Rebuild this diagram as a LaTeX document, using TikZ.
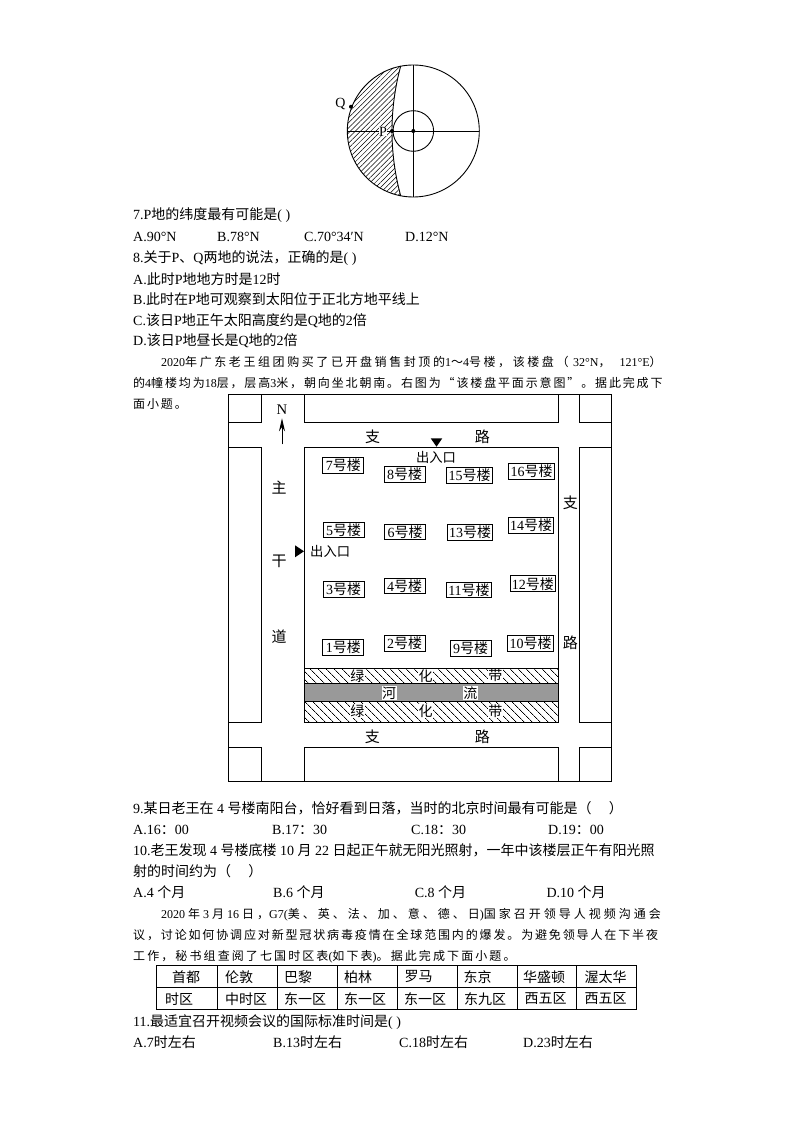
\documentclass[tikz,border=0pt]{standalone}
\usepackage{fontspec}
\usepackage{xcolor}
\usepackage{tikz}
\usetikzlibrary{patterns.meta, arrows.meta}
\setmainfont{Liberation Serif}
\newfontfamily\cjk{Noto Sans CJK SC}
\newfontfamily\kaione[LetterSpace=15.5]{Noto Sans CJK SC}
\newfontfamily\kaitwo[LetterSpace=25]{Noto Sans CJK SC}
\newfontfamily\kaithree[LetterSpace=17.5]{Noto Sans CJK SC}
\newfontfamily\kaifour[LetterSpace=21.5]{Noto Sans CJK SC}
\newcommand{\zh}[1]{{\cjk #1}}
\newcommand{\ka}[1]{{\kaione #1}}
\newcommand{\kb}[1]{{\kaitwo #1}}
\newcommand{\kc}[1]{{\kaithree #1}}
\newcommand{\kd}[1]{{\kaifour #1}}
\definecolor{rivergray}{RGB}{153, 153, 153}

\begin{document}
\begin{tikzpicture}[
        x=1pt, y=-1pt,
        qline/.style={anchor=base west, inner sep=0pt, font=\fontsize{14}{16}\selectfont},
        para/.style={anchor=base west, inner sep=0pt, font=\fontsize{12}{15}\selectfont},
        road/.style={draw, line width=0.9pt},
        roadname/.style={inner sep=0pt, font=\fontsize{15}{18}\selectfont\cjk},
        bldg/.style={draw, line width=1pt, fill=white, minimum width=41pt, minimum height=15.6pt, inner sep=0pt, font=\fontsize{14}{15}\selectfont},
        bldgwide/.style={bldg, minimum width=45.5pt},
        belt/.style={draw, line width=0.8pt, pattern={Lines[angle=-45, distance=5.4pt, line width=0.6pt]}},
        beltname/.style={fill=white, inner sep=0.5pt, font=\fontsize{14}{15}\selectfont\cjk},
        gate/.style={inner sep=0pt, font=\fontsize{13.3}{15}\selectfont\cjk},
        cell/.style={inner sep=0pt, font=\fontsize{14}{16}\selectfont\cjk},
        tline/.style={line width=0.9pt},
        globe/.style={line width=0.9pt},
        spot/.style={circle, fill=black, inner sep=0pt, minimum size=4pt},
        north/.style={-{Stealth[length=13pt, width=6pt]}, line width=0.9pt}
    ]
        \fill[white] (0,0) rectangle (794,1123);
        \useasboundingbox (0,0) rectangle (794,1123);

        % globe
        \path[pattern={Lines[angle=45, distance=3.6pt, line width=0.5pt]}] (400.7,66) arc[start angle=101, end angle=259, radius=66pt] .. controls (389.1,153) and (389.1,109) .. (400.7,66);
        \draw[globe] (413.3,131) circle[radius=66pt];
        \draw[globe] (413.3,131) circle[radius=20.3pt];
        \draw[globe] (400.7,66) .. controls (389.1,109) and (389.1,153) .. (400.7,196);
        \draw[globe] (347.3,131) -- (479.3,131);
        \draw[globe] (413.3,65) -- (413.3,197);
        \node[inner sep=0pt, fill=white, font=\fontsize{14}{15}\selectfont] (labelp) at (383,131.5) {P};
        \node[spot] (centre) at (413.3,131) {};
        \node[spot] (pointp) at (392,131) {};
        \node[spot] (pointq) at (351,106.7) {};
        \node[inner sep=0pt, font=\fontsize{14}{15}\selectfont] (labelq) at (340.5,104.5) {Q};

        % questions 7 and 8
        \node[qline] (q7) at (133,220) {7.P\zh{地的纬度最有可能是}( )};
        \node[qline] (q7a) at (133,241) {A.90°N};
        \node[qline] (q7b) at (217,241) {B.78°N};
        \node[qline] (q7c) at (304,241) {C.70°34′N};
        \node[qline] (q7d) at (405,241) {D.12°N};
        \node[qline] (q8) at (133,262.5) {8.\zh{关于}P\zh{、}Q\zh{两地的说法，正确的是}( )};
        \node[qline] (q8a) at (133,284) {A.\zh{此时}P\zh{地地方时是}12\zh{时}};
        \node[qline] (q8b) at (133,304) {B.\zh{此时在}P\zh{地可观察到太阳位于正北方地平线上}};
        \node[qline] (q8c) at (133,325) {C.\zh{该日}P\zh{地正午太阳高度约是}Q\zh{地的}2\zh{倍}};
        \node[qline] (q8d) at (133,345.5) {D.\zh{该日}P\zh{地昼长是}Q\zh{地的}2\zh{倍}};
        \node[para] (introa) at (161,366) {2020\kd{年广东老王组团购买了已开盘销售封顶的}1\kd{～}4\kd{号楼，该楼盘（}\hspace{4.5pt}32°N\kd{，}\hspace{9pt}121°E\kd{）}};
        \node[para] (introb) at (133,387.5) {\ka{的}4\ka{幢楼均为}18\ka{层，层高}3\ka{米，朝向坐北朝南。右图为“该楼盘平面示意图”。据此完成下}};
        \node[para] (introc) at (133,408.5) {\ka{面小题。}};

        % plan of the estate
        \draw[road] (228.5,394.7) rectangle (611.3,781.7);
        \draw[road] (261.3,394.7) -- (261.3,422.3) -- (228.5,422.3);
        \draw[road] (304,394.7) -- (304,422.3) -- (558.3,422.3) -- (558.3,394.7);
        \draw[road] (611.3,422.3) -- (579.7,422.3) -- (579.7,394.7);
        \draw[road] (228.5,447.3) -- (261.3,447.3) -- (261.3,722) -- (228.5,722);
        \draw[road] (611.3,447.3) -- (579.7,447.3) -- (579.7,722) -- (611.3,722);
        \draw[road] (228.5,747.7) -- (261.3,747.7) -- (261.3,781.7);
        \draw[road] (304,781.7) -- (304,747.7) -- (558.3,747.7) -- (558.3,781.7);
        \draw[road] (579.7,781.7) -- (579.7,747.7) -- (611.3,747.7);
        \path[belt] (304,668.3) rectangle (558.3,683.7);
        \path[belt] (304,701) rectangle (558.3,722);
        \draw[line width=0.8pt, fill=rivergray] (304,683.7) rectangle (558.3,701);
        \draw[road] (304,447.3) rectangle (558.3,722);

        \node[beltname] (greena) at (357.3,675.7) {绿};
        \node[beltname] (greenb) at (425.7,675.7) {化};
        \node[beltname] (greenc) at (495.3,675.7) {带};
        \node[beltname] (rivera) at (389,692.8) {河};
        \node[beltname] (riverb) at (470.3,692.8) {流};
        \node[beltname] (greend) at (357.3,711) {绿};
        \node[beltname] (greene) at (425.7,711) {化};
        \node[beltname] (greenf) at (495.3,711) {带};

        \node[roadname] (topa) at (372.7,436.7) {支};
        \node[roadname] (topb) at (482.3,436.7) {路};
        \node[roadname] (maina) at (279,487.3) {主};
        \node[roadname] (mainb) at (279,561.7) {干};
        \node[roadname] (mainc) at (279,636.7) {道};
        \node[roadname] (righta) at (570.3,502.3) {支};
        \node[roadname] (rightb) at (570.3,642.7) {路};
        \node[roadname] (bota) at (372.3,736.7) {支};
        \node[roadname] (botb) at (482.3,736.7) {路};

        \node[inner sep=0pt, font=\fontsize{14.7}{16}\selectfont] (northn) at (282,410) {N};
        \coordinate (northtail) at (282,444.3);
        \coordinate (northtip) at (282,418.3);
        \draw[north] (northtail) -- (northtip);

        \fill (430.7,438.3) -- (442.3,438.3) -- (436.5,446.7) -- cycle;
        \node[gate] (gatetop) at (436,457.7) {出入口};
        \fill (295,545.3) -- (295,557.3) -- (304,551.3) -- cycle;
        \node[gate, anchor=west] (gateleft) at (310,551) {出入口};

        \node[bldg] (b7) at (343.3,465.5) {7\zh{号楼}};
        \node[bldg] (b8) at (404.5,474.5) {8\zh{号楼}};
        \node[bldgwide] (b15) at (469.5,475.3) {15\zh{号楼}};
        \node[bldgwide] (b16) at (531.7,471.2) {16\zh{号楼}};
        \node[bldg] (b5) at (343.7,529.8) {5\zh{号楼}};
        \node[bldg] (b6) at (405,531.8) {6\zh{号楼}};
        \node[bldgwide] (b13) at (470,532.5) {13\zh{号楼}};
        \node[bldgwide] (b14) at (531,525.2) {14\zh{号楼}};
        \node[bldg] (b3) at (343.5,589.5) {3\zh{号楼}};
        \node[bldg] (b4) at (404.5,585.8) {4\zh{号楼}};
        \node[bldgwide] (b11) at (469,590) {11\zh{号楼}};
        \node[bldgwide] (b12) at (532.8,583.7) {12\zh{号楼}};
        \node[bldg] (b1) at (343.3,647.5) {1\zh{号楼}};
        \node[bldg] (b2) at (404.5,643.3) {2\zh{号楼}};
        \node[bldg] (b9) at (470.7,648.3) {9\zh{号楼}};
        \node[bldgwide] (b10) at (530.7,643.5) {10\zh{号楼}};

        % questions 9 and 10
        \node[qline] (q9) at (133,813.5) {9.\zh{某日老王在} 4 \zh{号楼南阳台，恰好看到日落，当时的北京时间最有可能是（\quad\ ）}};
        \node[qline] (q9a) at (133,834.5) {A.16\zh{：}00};
        \node[qline] (q9b) at (272,834.5) {B.17\zh{：}30};
        \node[qline] (q9c) at (411,834.5) {C.18\zh{：}30};
        \node[qline] (q9d) at (548,834.5) {D.19\zh{：}00};
        \node[qline] (q10) at (133,855.5) {10.\zh{老王发现} 4 \zh{号楼底楼} 10 \zh{月} 22 \zh{日起正午就无阳光照射，一年中该楼层正午有阳光照}};
        \node[qline] (q10x) at (133,876) {\zh{射的时间约为（\quad\ ）}};
        \node[qline] (q10a) at (133,897) {A.4 \zh{个月}};
        \node[qline] (q10b) at (273,897) {B.6 \zh{个月}};
        \node[qline] (q10c) at (414.6,897) {C.8 \zh{个月}};
        \node[qline] (q10d) at (546.4,897) {D.10 \zh{个月}};
        \node[para] (introd) at (161,918) {2020 \kb{年} 3 \kb{月} 16 \kb{日，}G7(\kb{美、英、法、加、意、德、日})\kb{国家召开领导人视频沟通会}};
        \node[para] (introe) at (133,939) {\ka{议，讨论如何协调应对新型冠状病毒疫情在全球范围内的爆发。为避免领导人在下半夜}};
        \node[para] (introf) at (133,960) {\kc{工作，秘书组查阅了七国时区表}(\kc{如下表})\kc{。据此完成下面小题。}};

        % time zone table
        \draw[tline] (156.7,965.7) rectangle (636.7,1009);
        \draw[tline] (156.7,987.3) -- (636.7,987.3);
        \draw[tline] (217,965.7) -- (217,1009);
        \draw[tline] (277,965.7) -- (277,1009);
        \draw[tline] (337,965.7) -- (337,1009);
        \draw[tline] (397,965.7) -- (397,1009);
        \draw[tline] (457,965.7) -- (457,1009);
        \draw[tline] (517,965.7) -- (517,1009);
        \draw[tline] (576.7,965.7) -- (576.7,1009);
        \node[cell] (capital) at (186,976.7) {首都};
        \node[cell] (london) at (239,976.7) {伦敦};
        \node[cell] (paris) at (298,976.7) {巴黎};
        \node[cell] (berlin) at (358,976.7) {柏林};
        \node[cell] (rome) at (418.5,976.7) {罗马};
        \node[cell] (tokyo) at (477.5,976.7) {东京};
        \node[cell] (washington) at (544,976.7) {华盛顿};
        \node[cell] (ottawa) at (605.5,976.7) {渥太华};
        \node[cell] (zone) at (179,998.7) {时区};
        \node[cell] (zonelondon) at (246,998.7) {中时区};
        \node[cell] (zoneparis) at (305,998.7) {东一区};
        \node[cell] (zoneberlin) at (365,998.7) {东一区};
        \node[cell] (zonerome) at (425,998.7) {东一区};
        \node[cell] (zonetokyo) at (485,998.7) {东九区};
        \node[cell] (zonewashington) at (545.7,998.7) {西五区};
        \node[cell] (zoneottawa) at (605.5,998.7) {西五区};

        % question 11
        \node[qline] (q11) at (133,1026.5) {11.\zh{最适宜召开视频会议的国际标准时间是}( )};
        \node[qline] (q11a) at (133,1047.5) {A.7\zh{时左右}};
        \node[qline] (q11b) at (273,1047.5) {B.13\zh{时左右}};
        \node[qline] (q11c) at (399,1047.5) {C.18\zh{时左右}};
        \node[qline] (q11d) at (523,1047.5) {D.23\zh{时左右}};
    \end{tikzpicture}
\end{document}
